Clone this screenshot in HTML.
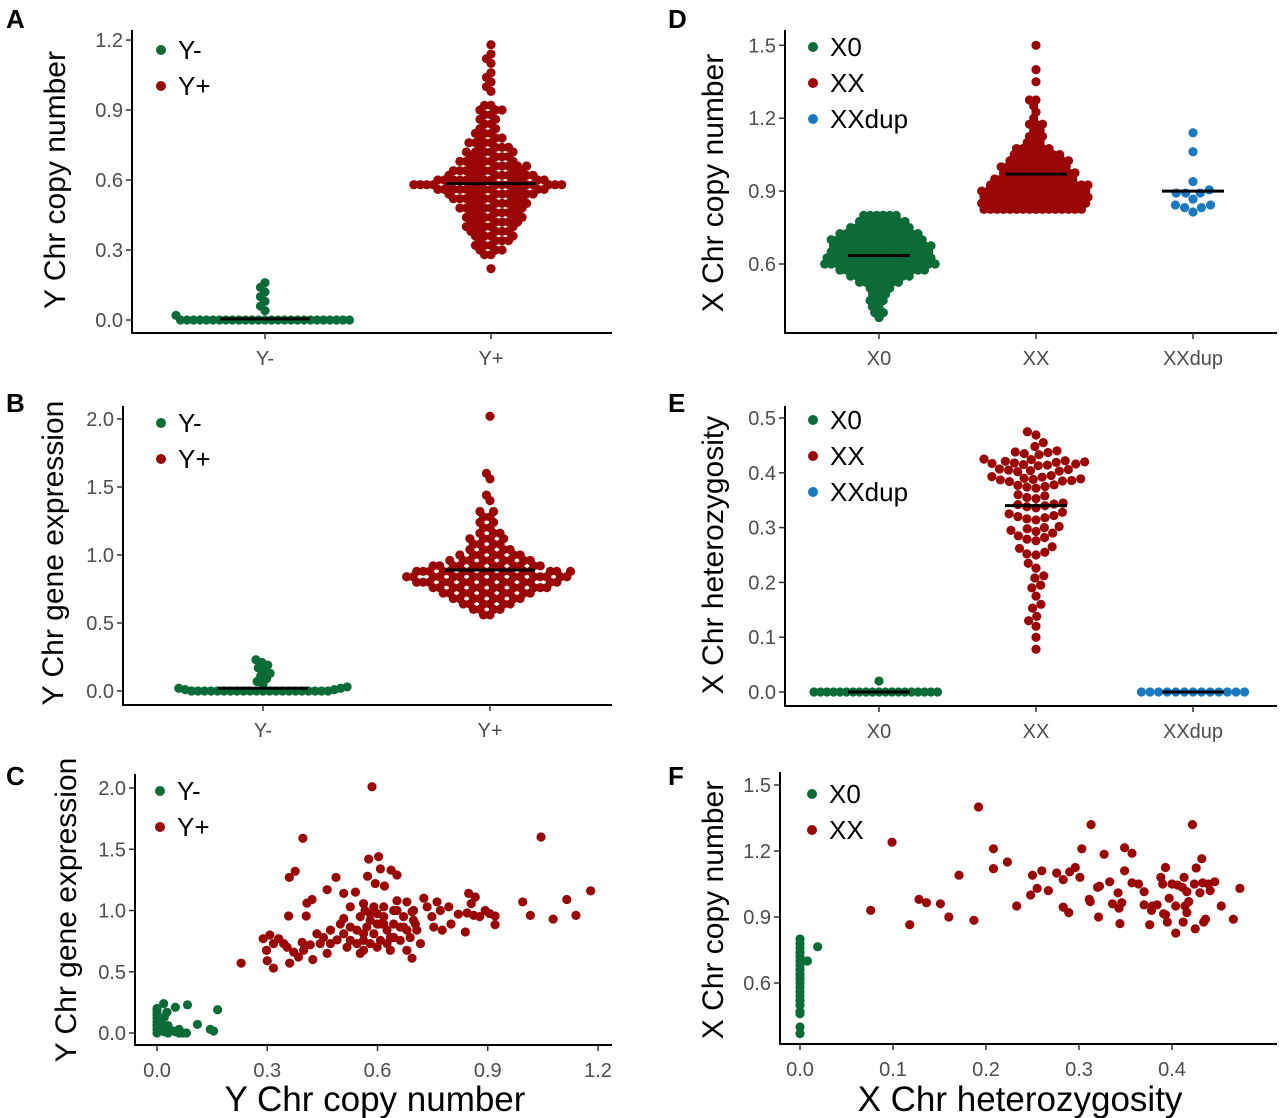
<!DOCTYPE html>
<html><head><meta charset="utf-8"><style>
html,body{margin:0;padding:0;background:#fff;}
svg{display:block;font-family:"Liberation Sans",Arial,sans-serif;}
</style></head><body>
<svg id="fig" width="1280" height="1118" viewBox="0 0 1280 1118" xmlns="http://www.w3.org/2000/svg"></svg>
<script>
// ---------- DATA ----------
const GREEN = "#0c6b37", RED = "#9a0606", BLUE = "#1b79c1";
// Panel A: Y chr copy number
const aYnegBins = [0, 0.02, 0.04, 0.06, 0.08, 0.10, 0.12, 0.14, 0.16];
const aYnegCounts = [27, 1, 1, 1, 1, 1, 1, 1, 1];
const aYposBins = [0.22,0.28,0.30,0.32,0.34,0.36,0.38,0.40,0.42,0.44,0.46,0.48,0.50,0.52,0.54,0.56,0.58,0.60,0.62,0.64,0.66,0.68,0.70,0.72,0.74,0.76,0.78,0.80,0.82,0.84,0.86,0.88,0.90,0.92,0.98,1.00,1.02,1.04,1.06,1.10,1.12,1.14,1.18];
const aYposCounts = [1,2,3,3,4,4,5,5,6,6,6,7,7,8,9,12,16,12,9,8,7,6,5,5,4,4,3,3,2,2,2,2,3,2,1,1,1,1,1,1,1,1,1];
const aMedians = [0.005, 0.585];
// Panel B: Y chr gene expression
const bYnegBins = [0, 0.01, 0.02, 0.03, 0.05, 0.07, 0.09, 0.11, 0.13, 0.15, 0.17, 0.19, 0.21, 0.23];
const bYnegCounts = [22, 2, 2, 1, 1, 1, 1, 1, 1, 1, 1, 1, 1, 1];
const bYposBins = [0.56,0.60,0.64,0.68,0.72,0.76,0.80,0.84,0.88,0.92,0.96,1.00,1.04,1.08,1.12,1.16,1.20,1.24,1.28,1.32,1.40,1.44,1.56,1.60,2.02];
const bYposCounts = [2,4,6,8,10,13,15,17,16,12,9,7,5,4,4,3,2,2,2,2,1,1,1,1,1];
const bMedians = [0.02, 0.89];
// Panel C: scatter copy number (x) vs expression (y)
const cGreenX = [0.0,0.018,0.05,0.083,0.165,0.027,0.11,0.145,0.154,0,0,0,0,0,0,0.01,0.01,0.01,0.02,0.02,0.03,0.03,0.04,0.05,0.06,0.06,0.07,0.08,0.0,0.02];
const cGreenY = [0.2,0.24,0.21,0.23,0.19,0.17,0.07,0.03,0.016,0,0.03,0.06,0.09,0.12,0.15,0.02,0.05,0.1,0.01,0.04,0,0.06,0.02,0.01,0,0.03,0,0,0.18,0.13];
const cRedX = [0.585,0.397,1.045,1.18,1.115,1.14,1.078,1.016,0.995,0.576,0.603,0.608,0.573,0.594,0.637,0.653,0.619,0.36,0.376,0.487,0.463,0.508,0.54,0.422,0.408,0.358,0.406,0.229,0.317,0.30,0.361,0.424,0.694,0.289,0.307,0.298,0.331,0.354,0.372,0.385,0.395,0.417,0.435,0.453,0.472,0.463,0.49,0.508,0.526,0.526,0.544,0.553,0.562,0.571,0.58,0.59,0.599,0.608,0.617,0.626,0.635,0.644,0.653,0.653,0.662,0.671,0.68,0.689,0.698,0.707,0.717,0.68,0.635,0.599,0.58,0.562,0.517,0.499,0.526,0.562,0.566,0.58,0.599,0.617,0.644,0.68,0.694,0.703,0.726,0.735,0.748,0.753,0.762,0.771,0.776,0.794,0.80,0.82,0.839,0.848,0.866,0.855,0.844,0.862,0.878,0.893,0.905,0.92,0.92,0.562,0.544,0.608,0.626,0.644,0.662,0.472,0.444,0.399,0.345,0.317,0.508,0.553,0.671,0.698,0.617,0.59];
const cRedY = [2.01,1.59,1.60,1.16,1.09,0.96,0.93,0.96,1.07,1.42,1.44,1.34,1.28,1.22,1.33,1.29,1.20,1.27,1.32,1.27,1.17,1.14,1.15,1.09,1.06,0.955,0.955,0.57,0.53,0.59,0.57,0.60,0.61,0.77,0.80,0.675,0.77,0.70,0.66,0.62,0.74,0.72,0.81,0.78,0.73,0.65,0.76,0.81,0.865,0.756,0.73,0.65,0.81,0.865,0.92,0.81,0.975,0.89,0.95,0.84,0.78,0.89,1.0,1.08,0.865,0.95,0.84,0.78,0.92,0.84,0.73,0.675,0.675,0.70,0.73,0.675,0.70,0.89,1.03,1.056,1.0,0.975,0.89,0.89,1.0,1.07,0.99,0.89,1.10,1.03,0.95,0.865,1.07,1.0,0.84,1.03,0.89,0.97,0.825,1.14,1.11,1.056,0.98,0.96,0.95,1.0,0.975,0.955,0.885,0.756,0.84,0.756,0.73,0.78,0.756,0.84,0.73,0.675,0.73,0.73,0.935,0.95,0.865,1.0,1.03,1.03];
// Panel D: X chr copy number
const dX0Bins = [0.80,0.775,0.75,0.725,0.70,0.675,0.65,0.625,0.60,0.575,0.55,0.525,0.50,0.475,0.45,0.425,0.40,0.38];
const dX0Counts = [6,8,10,13,15,16,16,17,18,14,10,7,4,3,3,2,2,1];
const dXXBins = [0.825,0.85,0.875,0.90,0.925,0.95,0.975,1.0,1.025,1.05,1.075,1.10,1.125,1.15,1.175,1.20,1.225,1.25,1.275,1.35,1.40,1.50];
const dXXCounts = [16,17,17,17,16,13,12,11,10,8,6,3,3,2,3,1,1,1,2,1,1,1];
const dXXdup = [1.14,1.062,0.939,0.892,0.892,0.892,0.905,0.867,0.843,0.843,0.832,0.832,0.814];
const dMedians = [0.635, 0.97, 0.90];
// Panel E: X chr heterozygosity
const eX0Bins = [0, 0.02];
const eX0Counts = [20, 1];
const eXX = [0.475,0.469,0.455,0.448,0.44,0.438,0.437,0.435,0.433,0.425,0.424,0.422,0.421,0.42,0.419,0.418,0.417,0.416,0.415,0.414,0.413,0.407,0.406,0.405,0.404,0.403,0.402,0.395,0.393,0.392,0.39,0.389,0.388,0.387,0.386,0.385,0.384,0.378,0.377,0.375,0.374,0.372,0.36,0.358,0.355,0.353,0.345,0.343,0.342,0.34,0.338,0.336,0.328,0.325,0.322,0.32,0.318,0.316,0.314,0.302,0.3,0.298,0.295,0.293,0.29,0.285,0.282,0.279,0.276,0.265,0.262,0.255,0.252,0.25,0.235,0.226,0.212,0.208,0.195,0.19,0.175,0.16,0.153,0.138,0.13,0.12,0.1,0.078];
const eXXdupBins = [0];
const eXXdupCounts = [13];
const eMedians = [0, 0.34, 0];
// Panel F: heterozygosity (x) vs copy number (y)
const fGreenX = [0,0,0,0,0,0,0,0,0,0,0,0,0,0,0,0,0,0,0,0,0.008,0.019];
const fGreenY = [0.8,0.78,0.76,0.74,0.72,0.70,0.68,0.66,0.64,0.62,0.60,0.58,0.56,0.54,0.52,0.50,0.47,0.46,0.40,0.37,0.70,0.765];
const fRedX = [0.192,0.099,0.076,0.118,0.128,0.136,0.151,0.16,0.171,0.187,0.208,0.208,0.223,0.233,0.248,0.25,0.255,0.26,0.267,0.276,0.283,0.283,0.289,0.29,0.296,0.301,0.303,0.313,0.311,0.312,0.32,0.322,0.321,0.327,0.333,0.336,0.342,0.343,0.344,0.346,0.349,0.349,0.357,0.357,0.364,0.37,0.37,0.376,0.378,0.379,0.384,0.388,0.393,0.39,0.391,0.393,0.395,0.397,0.4,0.404,0.404,0.406,0.411,0.412,0.413,0.414,0.416,0.416,0.418,0.422,0.424,0.425,0.426,0.43,0.432,0.433,0.434,0.436,0.439,0.441,0.446,0.453,0.466,0.473];
const fRedY = [1.40,1.24,0.93,0.865,0.98,0.965,0.96,0.90,1.09,0.885,1.21,1.12,1.15,0.95,1.0,1.09,1.03,1.11,1.02,1.10,1.07,0.945,0.92,1.105,1.125,1.08,1.21,1.32,0.98,0.97,1.035,1.04,0.90,1.185,1.06,0.96,1.01,0.94,0.87,0.965,1.215,1.11,1.19,1.055,1.05,1.015,0.955,0.865,0.93,0.95,0.955,1.08,1.125,1.05,0.915,0.91,0.877,0.985,1.05,0.95,0.827,1.045,1.035,0.877,1.08,0.95,0.92,1.015,0.97,1.32,1.05,0.846,1.123,1.01,1.165,1.055,0.877,0.89,1.05,1.02,1.06,0.95,0.89,1.03];
// Tick labels
const ticksA = ["0.0","0.3","0.6","0.9","1.2"];
const ticksB = ["0.0","0.5","1.0","1.5","2.0"];
const ticksCx = ["0.0","0.3","0.6","0.9","1.2"];
const ticksCy = ["0.0","0.5","1.0","1.5","2.0"];
const ticksD = ["0.6","0.9","1.2","1.5"];
const ticksE = ["0.0","0.1","0.2","0.3","0.4","0.5"];
const ticksFx = ["0.0","0.1","0.2","0.3","0.4"];
const ticksFy = ["0.6","0.9","1.2","1.5"];
const catsY = ["Y-","Y+"];
const catsX = ["X0","XX","XXdup"];

// ---------- HELPERS ----------
const NS = "http://www.w3.org/2000/svg";
const svg = document.getElementById("fig");
function mk(tag, attrs, parent) {
  const e = document.createElementNS(NS, tag);
  for (const k in attrs) e.setAttribute(k, attrs[k]);
  (parent || svg).appendChild(e);
  return e;
}
function txt(s, attrs, parent) { const e = mk("text", attrs, parent); e.textContent = s; return e; }
function expand(bins, counts) { const out = []; bins.forEach((b, i) => { for (let k = 0; k < counts[i]; k++) out.push(b); }); return out; }
const R = 4.6;

function swarm(g, values, cx, ys, d, color, name) {
  const pts = values.map(v => ({ y: ys(v) })).sort((a, b) => b.y - a.y);
  const placed = [];
  pts.forEach(p => {
    const iv = [];
    placed.forEach(q => { const dy = Math.abs(q.y - p.y); if (dy < d) { const dx = Math.sqrt(d * d - dy * dy); iv.push([q.x - dx, q.x + dx]); } });
    const cands = [0];
    iv.forEach(r => { cands.push(r[0], r[1]); });
    cands.sort((a, b) => Math.abs(a) - Math.abs(b));
    let best = 0;
    for (const c of cands) { if (!iv.some(r => c > r[0] + 1e-6 && c < r[1] - 1e-6)) { best = c; break; } }
    p.x = best; placed.push(p);
  });
  placed.forEach(p => {
    const c = mk("circle", { cx: cx + p.x, cy: p.y, r: R, fill: color }, g);
    
    
  });
}
function scatter(g, xs, ys, xsc, ysc, color, name) {
  xs.forEach((x, i) => {
    const c = mk("circle", { cx: xsc(x), cy: ysc(ys[i]), r: R, fill: color }, g);
    
    
  });
}
function median(g, v, cx, ys, hw) {
  const l = mk("line", { x1: cx - hw, x2: cx + hw, y1: ys(v), y2: ys(v), stroke: "#000", "stroke-width": 3 }, g);
  
  
}
function panel(name) {
  const g = mk("g", {});
  
  
  return g;
}
function axes(g, ax, top, bottomY, right, ticks, ys, tickVal) {
  const yl = mk("line", { x1: ax, x2: ax, y1: top, y2: bottomY + 1, stroke: "#000", "stroke-width": 2 }, g);
  
  
  const xl = mk("line", { x1: ax - 1, x2: right, y1: bottomY, y2: bottomY, stroke: "#000", "stroke-width": 2 }, g);
  
  
  ticks.forEach((t, i) => {
    const y = ys(tickVal(t));
    const tm = mk("line", { x1: ax - 6, x2: ax, y1: y, y2: y, stroke: "#333", "stroke-width": 1.5 }, g);
    
    
    const tl = txt(t, { x: ax - 9, y: y + 7, "text-anchor": "end", "font-size": 20, fill: "#4d4d4d" }, g);
    
    
  });
}
function xticks(g, labels, xs, bottomY, vals) {
  labels.forEach((t, i) => {
    const x = xs(vals ? vals[i] : i);
    const tm = mk("line", { x1: x, x2: x, y1: bottomY, y2: bottomY + 6, stroke: "#333", "stroke-width": 1.5 }, g);
    
    
    const tl = txt(t, { x: x, y: bottomY + 32, "text-anchor": "middle", "font-size": 20, fill: "#4d4d4d" }, g);
    
    
  });
}
function legend(g, x, y0, labels, colors) {
  labels.forEach((l, i) => {
    const y = y0 + i * 36;
    const c = mk("circle", { cx: x, cy: y, r: 5, fill: colors[i] }, g);
    
    
    const t = txt(l, { x: x + 17, y: y + 9, "font-size": 26, fill: "#000" }, g);
    
    
  });
}
function ytitle(g, s, x, y) {
  const t = txt(s, { x: 0, y: 0, transform: `translate(${x},${y}) rotate(-90)`, "text-anchor": "middle", "font-size": 30, fill: "#000" }, g);
  
  
}
function xtitle(g, s, x, y) {
  const t = txt(s, { x: x, y: y, "text-anchor": "middle", "font-size": 35, fill: "#000" }, g);
  
  
}
function letter(g, s, x, y) {
  const t = txt(s, { x: x, y: y, "font-size": 26, "font-weight": "bold", fill: "#000" }, g);
  
  
}

// ---------- PANEL A ----------
(function () {
  const g = panel("panel-a");
  const ys = v => 320 - 233.3 * v;
  const cat = i => [265, 491][i];
  axes(g, 132, 30, 333, 612, ticksA, ys, parseFloat);
  xticks(g, catsY, cat, 333);
  swarm(g, expand(aYnegBins, aYnegCounts), cat(0), ys, 6.5, GREEN, "dot-y-neg");
  swarm(g, expand(aYposBins, aYposCounts), cat(1), ys, 6.5, RED, "dot-y-pos");
  median(g, aMedians[0], cat(0), ys, 45);
  median(g, aMedians[1], cat(1), ys, 45);
  legend(g, 161, 50, catsY, [GREEN, RED]);
  ytitle(g, "Y Chr copy number", 65, 180);
  letter(g, "A", 6, 28);
})();
// ---------- PANEL B ----------
(function () {
  const g = panel("panel-b");
  const ys = v => 691 - 136 * v;
  const cat = i => [263, 490][i];
  axes(g, 123, 406, 705, 612, ticksB, ys, parseFloat);
  xticks(g, catsY, cat, 705);
  swarm(g, expand(bYnegBins, bYnegCounts), cat(0), ys, 6.5, GREEN, "dot-y-neg");
  swarm(g, expand(bYposBins, bYposCounts), cat(1), ys, 6.5, RED, "dot-y-pos");
  median(g, bMedians[0], cat(0), ys, 45);
  median(g, bMedians[1], cat(1), ys, 45);
  legend(g, 161, 423, catsY, [GREEN, RED]);
  ytitle(g, "Y Chr gene expression", 63, 553);
  letter(g, "B", 6, 412);
})();
// ---------- PANEL C ----------
(function () {
  const g = panel("panel-c");
  const ys = v => 1033 - 122.5 * v;
  const xs = v => 157 + 367.5 * v;
  axes(g, 135, 774, 1045, 612, ticksCy, ys, parseFloat);
  xticks(g, ticksCx, xs, 1045, ticksCx.map(parseFloat));
  scatter(g, cGreenX, cGreenY, xs, ys, GREEN, "point-y-neg");
  scatter(g, cRedX, cRedY, xs, ys, RED, "point-y-pos");
  legend(g, 160, 791, catsY, [GREEN, RED]);
  ytitle(g, "Y Chr gene expression", 76, 910);
  xtitle(g, "Y Chr copy number", 375, 1111);
  letter(g, "C", 6, 785);
})();
// ---------- PANEL D ----------
(function () {
  const g = panel("panel-d");
  const ys = v => 264 - (v - 0.6) * 243;
  const cat = i => [879, 1036, 1193][i];
  axes(g, 785, 30, 333, 1277, ticksD, ys, parseFloat);
  xticks(g, catsX, cat, 333);
  swarm(g, expand(dX0Bins, dX0Counts), cat(0), ys, 6.5, GREEN, "dot-x0");
  swarm(g, expand(dXXBins, dXXCounts), cat(1), ys, 6.5, RED, "dot-xx");
  swarm(g, dXXdup, cat(2), ys, 9.5, BLUE, "dot-xxdup");
  dMedians.forEach((m, i) => median(g, m, cat(i), ys, 31));
  legend(g, 813, 47, catsX, [GREEN, RED, BLUE]);
  ytitle(g, "X Chr copy number", 723, 183);
  letter(g, "D", 668, 28);
})();
// ---------- PANEL E ----------
(function () {
  const g = panel("panel-e");
  const ys = v => 692 - 548 * v;
  const cat = i => [879, 1036, 1193][i];
  axes(g, 785, 406, 706, 1277, ticksE, ys, parseFloat);
  xticks(g, catsX, cat, 706);
  swarm(g, expand(eX0Bins, eX0Counts), cat(0), ys, 6.5, GREEN, "dot-x0");
  swarm(g, eXX, cat(1), ys, 9.2, RED, "dot-xx");
  swarm(g, expand(eXXdupBins, eXXdupCounts), cat(2), ys, 8.6, BLUE, "dot-xxdup");
  eMedians.forEach((m, i) => median(g, m, cat(i), ys, 31));
  legend(g, 813, 420, catsX, [GREEN, RED, BLUE]);
  ytitle(g, "X Chr heterozygosity", 723, 555);
  letter(g, "E", 668, 412);
})();
// ---------- PANEL F ----------
(function () {
  const g = panel("panel-f");
  const ys = v => 983 - (v - 0.6) * 220;
  const xs = v => 800 + 930 * v;
  axes(g, 780, 772, 1044, 1277, ticksFy, ys, parseFloat);
  xticks(g, ticksFx, xs, 1044, ticksFx.map(parseFloat));
  scatter(g, fGreenX, fGreenY, xs, ys, GREEN, "point-x0");
  scatter(g, fRedX, fRedY, xs, ys, RED, "point-xx");
  legend(g, 812, 794, ["X0", "XX"], [GREEN, RED]);
  ytitle(g, "X Chr copy number", 723, 910);
  xtitle(g, "X Chr heterozygosity", 1020, 1111);
  letter(g, "F", 668, 785);
})();
</script>
</body></html>
